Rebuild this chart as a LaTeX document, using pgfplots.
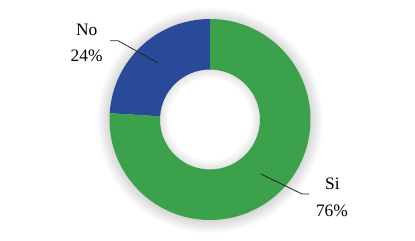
\documentclass[border=0pt]{standalone}
\usepackage{pgfplots}
\pgfplotsset{compat=1.18}
\usepackage{pgfplotstable}
\usepackage{fontspec}
\setmainfont{Liberation Serif}
\definecolor{sigreen}{RGB}{59,161,74}
\definecolor{noblue}{RGB}{41,74,152}
\pgfplotstableread{
label value
Si 76
No 24
}\donutdata
\begin{document}
\begin{tikzpicture}
\pgfplotstablegetelem{0}{value}\of\donutdata \pgfmathsetmacro{\siv}{\pgfplotsretval}
\pgfplotstablegetelem{1}{value}\of\donutdata \pgfmathsetmacro{\nov}{\pgfplotsretval}
\pgfmathsetmacro{\aa}{90}
\pgfmathsetmacro{\ab}{90+3.6*\nov}
\pgfmathsetmacro{\ac}{\ab+3.6*\siv}
\begin{axis}[x=1bp,y=1bp,xmin=0,xmax=415,ymin=0,ymax=241,hide axis,clip=false,disabledatascaling,scale only axis]
\path (axis cs:0,0) rectangle (axis cs:415,241);
% outer soft shadow
\pgfplotsinvokeforeach{1,...,14}{
  \fill[black,opacity=0.011] (axis cs:210,120.5) circle[radius=99+#1];
}
\fill[white] (axis cs:210,121.5) circle[radius=50];
% wedges
\fill[noblue] ([shift={(\aa:100.5)}]axis cs:210,121.5) arc[start angle=\aa,end angle=\ab,radius=100.5]
  -- ([shift={(\ab:50)}]axis cs:210,121.5) arc[start angle=\ab,end angle=\aa,radius=50] -- cycle;
\fill[sigreen] ([shift={(\ab:100.5)}]axis cs:210,121.5) arc[start angle=\ab,end angle=\ac,radius=100.5]
  -- ([shift={(\ac:50)}]axis cs:210,121.5) arc[start angle=\ac,end angle=\ab,radius=50] -- cycle;
% inner shadow
\pgfplotsinvokeforeach{1,...,9}{
  \fill[black,opacity=0.012,even odd rule] (axis cs:210,121.5) circle[radius=50] (axis cs:210,121.5) circle[radius=50-#1];
}
% leader lines
\draw[black!85,line width=0.8bp] (axis cs:110,200.3) -- (axis cs:118,200.3) -- (axis cs:158,178);
\draw[black!85,line width=0.8bp] (axis cs:261,67) -- (axis cs:302,47) -- (axis cs:309,47);
% labels
\node[anchor=base,font=\fontsize{17.5}{21}\selectfont] at (axis cs:86.7,205.3) {No};
\node[anchor=base,font=\fontsize{17.5}{21}\selectfont] at (axis cs:86.7,179.3) {24\%};
\node[anchor=base,font=\fontsize{17.5}{21}\selectfont] at (axis cs:332.5,51.7) {Si};
\node[anchor=base,font=\fontsize{17.5}{21}\selectfont] at (axis cs:332,25) {76\%};
\end{axis}
\end{tikzpicture}
\end{document}
